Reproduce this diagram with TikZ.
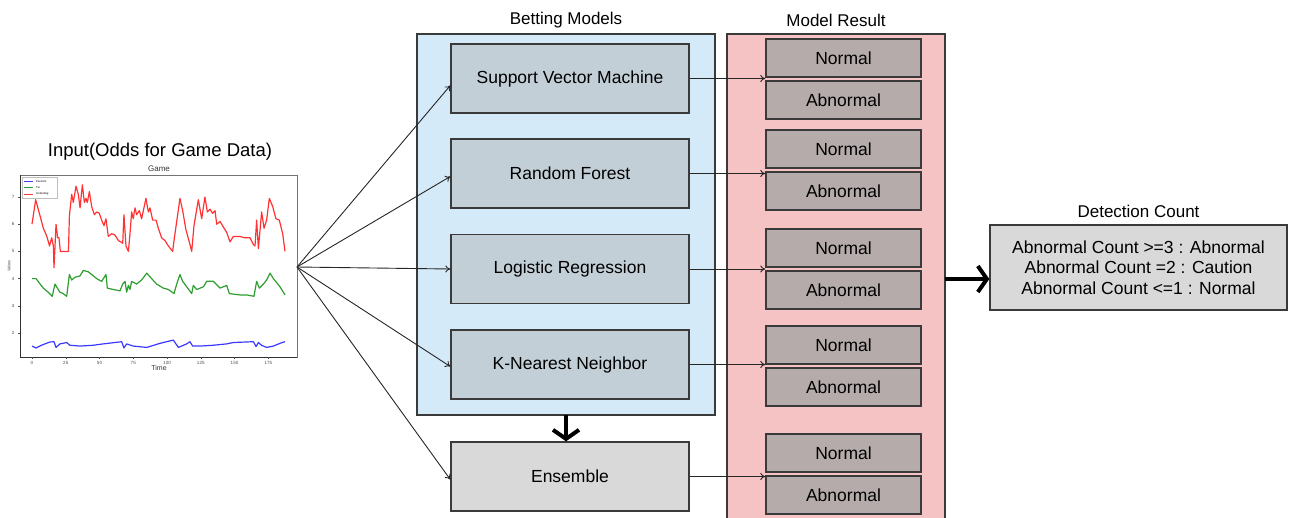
\documentclass[tikz,border=0pt]{standalone}
\usepackage{fontspec}
\setmainfont{Liberation Sans}
\usetikzlibrary{arrows.meta}
\definecolor{bluebg}{HTML}{D5EAF8}
\definecolor{modelfill}{HTML}{C3CFD7}
\definecolor{ensfill}{HTML}{D9D9D9}
\definecolor{pinkbg}{HTML}{F5C3C3}
\definecolor{resfill}{HTML}{B5ABAA}
\definecolor{edge}{HTML}{3A3A3A}
\definecolor{pred}{HTML}{FF3333}
\definecolor{pgreen}{HTML}{2E9E2E}
\definecolor{pblue}{HTML}{3A3AFF}
\tikzset{
  panel/.style={draw=edge, line width=1.3pt},
  modelbox/.style={draw=edge, line width=1.4pt, fill=modelfill, minimum width=238pt, minimum height=69pt, inner sep=0pt, font=\fontsize{17.5}{20}\selectfont},
  ensbox/.style={modelbox, fill=ensfill},
  resbox/.style={draw=edge, line width=1.4pt, fill=resfill, minimum width=155pt, minimum height=38pt, inner sep=0pt, font=\fontsize{17.5}{20}\selectfont},
  ttl/.style={font=\fontsize{17}{20}\selectfont},
  thin/.style={draw=black!85, line width=0.9pt, -{To[length=5pt,width=7pt]}},
  thick/.style={draw=black, line width=4pt, -{Straight Barb[length=9pt,width=26pt]}},
  tick/.style={font=\fontsize{4.5}{5}\selectfont, text=black!70},
}
\begin{document}
\begin{tikzpicture}[x=1pt,y=-1pt]
\useasboundingbox (0,0) rectangle (1293,517);
\begin{scope}
\clip (0,0) rectangle (1293,517);
% panels
\draw[panel, fill=bluebg] (417,34) rectangle (715,415);
\draw[panel, fill=pinkbg] (727,34) rectangle (945,530);
\node[ttl] (tbm) at (566,20) {Betting Models};
\node[ttl] (tmr) at (836,20) {Model Result};

% models
\node[modelbox] (svm) at (570,78.5) {Support Vector Machine};
\node[modelbox] (rf) at (570,173.5) {Random Forest};
\node[modelbox] (lr) at (570,269) {Logistic Regression};
\node[modelbox] (knn) at (570,364.5) {K-Nearest Neighbor};
\node[ensbox] (ens) at (570,476.5) {Ensemble};

% results
\node[resbox] (n1) at (843.5,58) {Normal};
\node[resbox] (a1) at (843.5,100) {Abnormal};
\node[resbox] (n2) at (843.5,149) {Normal};
\node[resbox] (a2) at (843.5,191) {Abnormal};
\node[resbox] (n3) at (843.5,248) {Normal};
\node[resbox] (a3) at (843.5,290) {Abnormal};
\node[resbox] (n4) at (843.5,345) {Normal};
\node[resbox] (a4) at (843.5,387) {Abnormal};
\node[resbox] (n5) at (843.5,453) {Normal};
\node[resbox] (a5) at (843.5,495) {Abnormal};

% model -> result arrows
\draw[thin] (svm.east) -- (svm.east -| n1.west);
\draw[thin] (rf.east) -- (rf.east -| n2.west);
\draw[thin] (lr.east) -- (lr.east -| n3.west);
\draw[thin] (knn.east) -- (knn.east -| n4.west);
\draw[thin] (ens.east) -- (ens.east -| n5.west);

% detection
\node[draw=edge, line width=1.4pt, fill=ensfill, minimum width=297pt, minimum height=85pt, inner sep=0pt, align=center, font=\fontsize{17.5}{20.5}\selectfont] (det) at (1138.5,267.5)
  {Abnormal Count >=3 : Abnormal\\Abnormal Count =2 : Caution\\Abnormal Count <=1 : Normal};
\node[ttl] (tdc) at (1138.5,211) {Detection Count};
\coordinate (pinkR) at (945,279);
\draw[thick] (pinkR) -- (pinkR -| det.west);
\coordinate (blueB) at (566,415);
\draw[thick] (blueB) -- (blueB |- ens.north);

% input chart
\node[font=\fontsize{18.5}{20}\selectfont] (tin) at (160,152) {Input(Odds for Game Data)};
\node[font=\fontsize{8}{9}\selectfont, text=black!80] (tgame) at (159,169) {Game};
\draw[black!55, line width=0.6pt] (20,175) rectangle (297,357);
\draw[black!80, line width=0.7pt] (20,175) -- (20,357) -- (297,357);
\node[font=\fontsize{7}{8}\selectfont, text=black!80] (ttime) at (159,368) {Time};
\node[font=\fontsize{4}{5}\selectfont, text=black!70, rotate=90] (tval) at (9,266) {Values};
\foreach \t/\lab in {0/0,25/25,50/50,75/75,100/100,125/125,150/150,175/175}{
  \draw[black!70, line width=0.4pt] ({32+1.35*\t},357) -- ({32+1.35*\t},359);
  \node[tick] at ({32+1.35*\t},362.5) {\lab};
}
\foreach \v in {2,3,4,5,6,7}{
  \draw[black!70, line width=0.4pt] (20,{387.4-27.2*\v}) -- (18,{387.4-27.2*\v});
  \node[tick, anchor=east] at (18,{387.4-27.2*\v}) {\v};
}
\begin{scope}[shift={(32,387.4)}, x=1.35pt, y=27.2pt, line width=1.2pt, line join=round]
\draw[pred] plot coordinates {(0,6.0) (2.7,6.9) (6,6.3) (8.4,5.85) (11,5.55) (13,5.2) (14.6,5.5) (15.8,5.2) (16.3,4.4) (17.8,6.0) (19,5.5) (20,5.5) (21,5.0) (27,5.0) (27.7,6.3) (29.4,7.1) (30.6,6.8) (32.6,7.4) (34.3,7.1) (35.6,6.6) (37.3,7.45) (38.8,6.8) (40,6.95) (41,6.8) (42.5,7.2) (44.2,6.65) (46.2,6.35) (47.9,6.45) (49.9,6.4) (51.6,6.15) (53.3,5.95) (54.8,6.2) (56.5,5.55) (59,5.65) (61.5,5.6) (64,5.4) (67.2,5.3) (68.1,6.35) (69.6,5.2) (71.4,5.0) (72.6,5.65) (73.8,6.45) (75,6.2) (76.3,6.6) (77.5,6.35) (79.5,6.5) (81.2,6.2) (84.4,6.95) (86.2,6.45) (87.4,6.6) (89.4,6.15) (91.9,6.15) (93.6,5.85) (96,5.5) (98.5,5.4) (101,5.2) (104.2,5.0) (105.2,5.4) (109.6,6.95) (111.6,6.5) (114,5.8) (116.5,5.35) (118.3,5.0) (120,5.95) (123.2,6.9) (125.7,6.2) (128.1,7.0) (129.9,6.45) (131.9,6.55) (133.8,6.4) (135.6,6.5) (136.8,6.0) (139.3,6.1) (141.7,5.9) (144.2,5.7) (146.7,5.35) (149.1,5.55) (154,5.55) (157.8,5.5) (161.5,5.5) (164,5.25) (165.2,5.2) (166.4,6.15) (167.7,5.1) (170.1,6.45) (171.9,5.85) (173.8,6.15) (175.8,6.95) (178.3,6.65) (180.7,6.2) (183.2,6.15) (185.7,5.65) (187.4,5.0)};
\draw[pgreen] plot coordinates {(0,4.0) (3,4.0) (6,3.8) (8.4,3.65) (12,3.5) (15,3.35) (17,3.8) (18.8,3.65) (20.7,3.5) (23,3.45) (25.7,3.35) (27.7,4.15) (29.4,3.95) (31.9,4.05) (35.6,4.1) (38,4.3) (41.7,4.25) (44.2,4.15) (47.9,4.0) (51.6,3.9) (54.8,4.15) (55.8,3.65) (60.2,3.6) (65.2,3.55) (67.2,3.8) (68.9,3.9) (70.1,3.5) (71.4,3.75) (72.6,3.6) (73.8,3.9) (77.5,3.8) (81.2,3.95) (85,4.2) (88.6,4.0) (92.3,3.8) (97.3,3.65) (101,3.6) (105.2,3.45) (107.2,3.8) (109.6,4.15) (111.6,3.9) (114.6,3.7) (118.3,3.45) (119.5,3.75) (122,3.6) (127,3.7) (129.4,3.9) (134.3,3.9) (139.3,3.65) (144.2,3.75) (146.2,3.45) (154,3.4) (159,3.4) (164.4,3.35) (166.4,3.9) (168.4,3.65) (171.4,3.8) (173.8,3.95) (176.3,4.2) (178.8,4.0) (183.7,3.7) (187.4,3.4)};
\draw[pblue] plot coordinates {(0,1.52) (3,1.45) (7,1.55) (13.3,1.67) (16.3,1.68) (17.8,1.47) (20.7,1.6) (25.7,1.65) (28,1.55) (35.6,1.52) (45.4,1.55) (52.8,1.6) (66.4,1.68) (68.1,1.45) (70.1,1.6) (75,1.52) (85,1.47) (94.8,1.62) (104.7,1.74) (108.4,1.47) (114.6,1.6) (117,1.68) (119,1.52) (124.4,1.52) (134.3,1.55) (144.2,1.6) (149.1,1.65) (164,1.68) (166,1.5) (167.7,1.65) (170,1.55) (173.8,1.47) (178.8,1.52) (183.7,1.62) (187.4,1.68)};
\end{scope}
% legend
\draw[black!25, line width=0.4pt, fill=white] (22,177) rectangle (57,198);
\draw[pblue, line width=1pt] (24,181.7) -- (33,181.7);
\draw[pgreen, line width=1pt] (24,187.7) -- (33,187.7);
\draw[pred, line width=1pt] (24,194) -- (33,194);
\node[font=\fontsize{2.8}{3}\selectfont, anchor=west, inner sep=0pt] (lf) at (36,181.7) {Favorite};
\node[font=\fontsize{2.8}{3}\selectfont, anchor=west, inner sep=0pt] (lt) at (36,187.7) {Tie};
\node[font=\fontsize{2.8}{3}\selectfont, anchor=west, inner sep=0pt] (lu) at (36,194) {Underdog};

% fan arrows
\coordinate (src) at (297,267);
\draw[thin] (src) -- ([yshift=-7pt]svm.west);
\draw[thin] (src) -- ([yshift=-3pt]rf.west);
\draw[thin] (src) -- (lr.west);
\draw[thin] (src) -- ([yshift=-2pt]knn.west);
\draw[thin] (src) -- ([yshift=-3pt]ens.west);
\end{scope}
\end{tikzpicture}
\end{document}
